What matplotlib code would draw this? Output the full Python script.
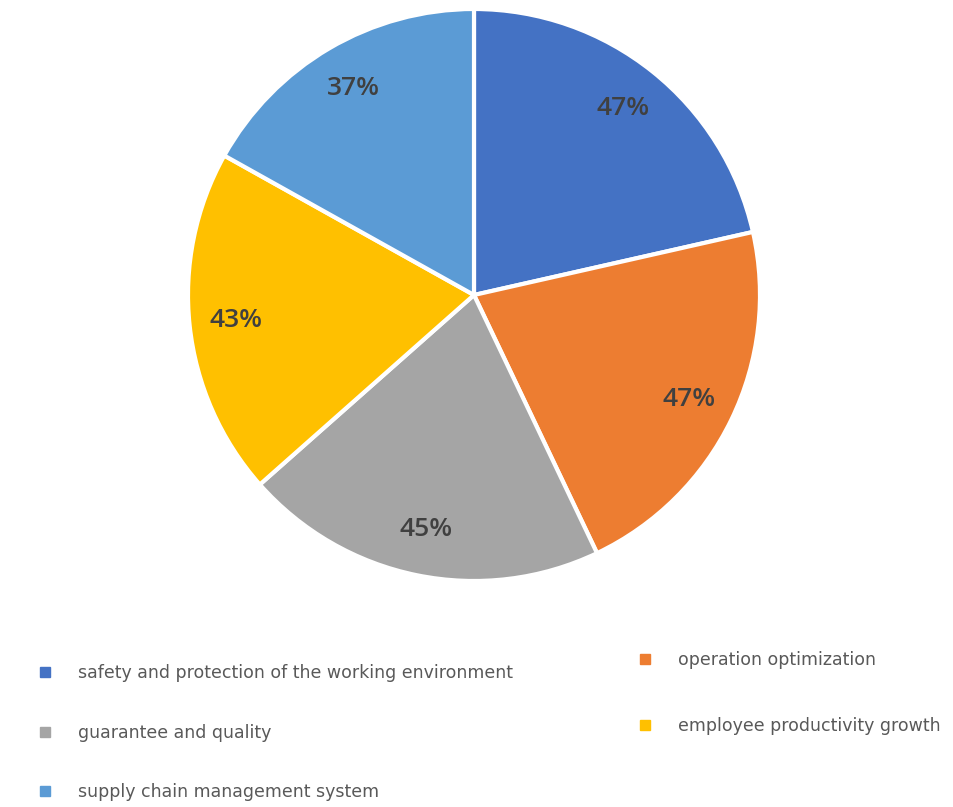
import matplotlib
matplotlib.use("Agg")
import matplotlib.pyplot as plt
from matplotlib.lines import Line2D

categories = ["safety and protection of the working environment",
              "operation optimization",
              "guarantee and quality",
              "employee productivity growth",
              "supply chain management system"]
values = [47, 47, 45, 43, 37]
colors = ["#4472C4", "#ED7D31", "#A5A5A5", "#FFC000", "#5B9BD5"]

W, H = 954, 807
fig = plt.figure(figsize=(W / 100, H / 100), dpi=100)
cx, cy, r = 474, 295, 286
ax = fig.add_axes([(cx - r) / W, (H - cy - r) / H, 2 * r / W, 2 * r / H])

wedges, texts = ax.pie(values, colors=colors, startangle=90, counterclock=False,
                       labels=[f"{v}%" for v in values], labeldistance=0.836,
                       wedgeprops=dict(edgecolor="white", linewidth=3),
                       textprops=dict(fontsize=19, color="#404040", weight="semibold",
                                      family=["Open Sans", "DejaVu Sans"]))
for t in texts:
    t.set_horizontalalignment("center")
    t.set_verticalalignment("center")
ax.set_xlim(-1.0, 1.0)
ax.set_ylim(-1.0, 1.0)
ax.set_aspect("equal")
ax.axis("off")

def handle(c):
    return Line2D([], [], marker="s", linestyle="none", markersize=7,
                  markerfacecolor=c, markeredgecolor=c)

left_idx = [0, 2, 4]
right_idx = [1, 3]
common = dict(frameon=False, labelcolor="#595959",
              handletextpad=1.4, borderaxespad=0, borderpad=0,
              handlelength=1.0, prop=dict(family="DejaVu Sans", size=12.5))
fig.legend([handle(colors[i]) for i in left_idx], [categories[i] for i in left_idx],
           loc="upper left", bbox_to_anchor=(36 / W, 1 - 664 / H), labelspacing=2.4, **common)
fig.legend([handle(colors[i]) for i in right_idx], [categories[i] for i in right_idx],
           loc="upper left", bbox_to_anchor=(636 / W, 1 - 651 / H), labelspacing=2.75, **common)

fig.savefig("out.png", dpi=100, facecolor="white")
